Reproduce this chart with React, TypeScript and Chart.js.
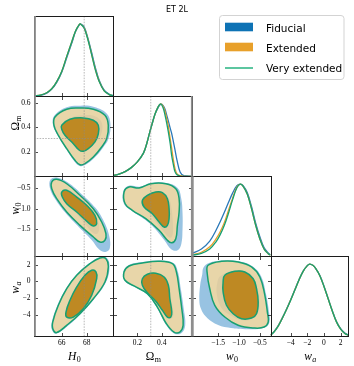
import { useEffect, useRef } from 'react';
import { Chart, registerables } from 'chart.js';

Chart.register(...registerables);

const W = 354;
const H = 366;

// ---------- text ----------
const TITLE = 'ET 2L';
const SERIES = ['Fiducial', 'Extended', 'Very extended'];

// ---------- layout (panel edges, px) ----------
const COL_EDGES = [34, 113.3, 191.8, 270.5, 348.3];
const ROW_EDGES = [16, 96, 176.3, 256.2, 336.3];

// ---------- colours ----------
const FID_LINE = '#2a78b8';
const EXT_LINE = '#e69f2b';
const VEXT_LINE = '#17a072';
const FID_OUT = 'rgb(152,195,226)';
const FID_IN = 'rgb(70,135,192)';
const EXT_OUT = 'rgba(246,216,160,0.86)';
const EXT_IN = 'rgb(190,137,35)';
const LEG_FID = '#0e73b5';
const LEG_EXT = '#e8a02a';
const LEG_VEXT = '#5cc6a0';
const REF_COLOR = 'rgba(140,140,140,0.75)';

// ---------- axis ranges / ticks / reference values ----------
const H0_RANGE = [63.78, 70.13];
const OM_XRANGE = [0.003, 0.646];
const OM_YRANGE = [0.0016, 0.657];
const W0_XRANGE = [-2.13, -0.245];
const W0_YRANGE = [-2.142, -0.221];
const WA_XRANGE = [-6.42, 2.92];
const WA_YRANGE = [-6.6, 3.01];
const PDF_RANGE = [0, 1.11];

const H0_TICKS = [66, 68];
const H0_LABELS = ['66', '68'];
const OM_XTICKS = [0.2, 0.4];
const OM_XLABELS = ['0.2', '0.4'];
const OM_YTICKS = [0.2, 0.4, 0.6];
const OM_YLABELS = ['0.2', '0.4', '0.6'];
const W0_TICKS = [-1.5, -1.0, -0.5];
const W0_LABELS = ['\u22121.5', '\u22121.0', '\u22120.5'];
const WA_TICKS = [-4, -2, 0, 2];
const WA_LABELS = ['\u22124', '\u22122', '0', '2'];

const H0_REF = 67.8;
const OM_REF = 0.31;

// ---------- 1D marginals ----------
const H0_GRID = [63.8, 64.3, 64.8, 65.2, 65.6, 66.0, 66.4, 66.8, 67.1, 67.4, 67.5, 67.8, 68.1, 68.4, 68.7, 69.0, 69.4, 69.8, 70.1];
const H0_FID = [0.0, 0.01, 0.04, 0.095, 0.19, 0.33, 0.53, 0.73, 0.89, 0.985, 1.0, 0.955, 0.8, 0.6, 0.39, 0.22, 0.08, 0.025, 0.008];
const H0_EXT = [0.0, 0.012, 0.045, 0.1, 0.2, 0.34, 0.55, 0.75, 0.9, 0.99, 1.0, 0.945, 0.785, 0.575, 0.365, 0.205, 0.072, 0.02, 0.005];
const H0_VEXT = [0.0, 0.012, 0.045, 0.1, 0.2, 0.34, 0.55, 0.75, 0.9, 0.99, 1.0, 0.94, 0.78, 0.57, 0.36, 0.2, 0.07, 0.02, 0.005];

const OM_GRID = [0.0, 0.05, 0.1, 0.15, 0.2, 0.25, 0.28, 0.3, 0.32, 0.345, 0.37, 0.39, 0.41, 0.426, 0.44, 0.453, 0.47, 0.48, 0.495, 0.508, 0.525, 0.55, 0.58, 0.646];
const OM_FID = [0.01, 0.03, 0.065, 0.12, 0.2, 0.32, 0.47, 0.6, 0.72, 0.86, 0.95, 0.995, 0.98, 0.93, 0.85, 0.77, 0.66, 0.6, 0.48, 0.37, 0.22, 0.06, 0.01, 0.0];
const OM_EXT = [0.01, 0.03, 0.065, 0.12, 0.2, 0.32, 0.47, 0.6, 0.72, 0.86, 0.96, 1.0, 0.97, 0.9, 0.8, 0.7, 0.51, 0.4, 0.23, 0.11, 0.035, 0.008, 0.0, 0.0];
const OM_VEXT = [0.01, 0.03, 0.065, 0.12, 0.2, 0.32, 0.47, 0.6, 0.72, 0.86, 0.96, 1.0, 0.95, 0.85, 0.74, 0.62, 0.44, 0.3, 0.16, 0.065, 0.02, 0.003, 0.0, 0.0];

const W0_GRID = [-2.13, -1.9, -1.7, -1.55, -1.45, -1.35, -1.25, -1.15, -1.05, -0.97, -0.9, -0.8, -0.7, -0.6, -0.5, -0.4, -0.3, -0.245];
const W0_FID = [0.035, 0.1, 0.21, 0.36, 0.48, 0.61, 0.75, 0.88, 0.98, 1.0, 0.98, 0.88, 0.69, 0.46, 0.27, 0.12, 0.045, 0.02];
const W0_EXT = [0.018, 0.055, 0.13, 0.24, 0.34, 0.47, 0.64, 0.81, 0.96, 1.0, 0.97, 0.86, 0.66, 0.43, 0.24, 0.1, 0.035, 0.015];
const W0_VEXT = [0.012, 0.04, 0.1, 0.2, 0.3, 0.43, 0.6, 0.79, 0.95, 1.0, 0.97, 0.86, 0.66, 0.43, 0.24, 0.1, 0.035, 0.015];

const WA_GRID = [-6.42, -6.0, -5.5, -5.0, -4.5, -4.0, -3.5, -3.0, -2.5, -2.0, -1.7, -1.3, -1.0, -0.5, 0.0, 0.5, 1.0, 1.5, 2.0, 2.5, 2.92];
const WA_FID = [0.02, 0.065, 0.145, 0.255, 0.375, 0.505, 0.645, 0.785, 0.905, 0.98, 1.0, 0.98, 0.94, 0.845, 0.695, 0.525, 0.355, 0.205, 0.105, 0.045, 0.018];
const WA_EXT = [0.016, 0.062, 0.142, 0.252, 0.372, 0.502, 0.642, 0.78, 0.9, 0.98, 1.0, 0.98, 0.94, 0.84, 0.69, 0.52, 0.35, 0.2, 0.1, 0.04, 0.015];
const WA_VEXT = [0.015, 0.06, 0.14, 0.25, 0.37, 0.5, 0.64, 0.78, 0.9, 0.98, 1.0, 0.98, 0.94, 0.84, 0.69, 0.52, 0.35, 0.2, 0.1, 0.04, 0.015];

// ---------- 2D contours (68% = *1, 95% = *2) ----------
const FID_H0_OM_2 = [[65.4, 0.495], [66.4, 0.565], [67.5, 0.578], [68.6, 0.568], [69.6, 0.515], [69.9, 0.43], [69.75, 0.31], [69.3, 0.235], [68.6, 0.15], [67.9, 0.095], [67.45, 0.086], [67.0, 0.125], [66.35, 0.225], [65.65, 0.34], [65.3, 0.42]];
const FID_H0_OM_1 = [[66.0, 0.425], [66.7, 0.48], [67.8, 0.5], [68.7, 0.49], [69.2, 0.44], [69.2, 0.36], [68.8, 0.285], [68.2, 0.225], [67.75, 0.2], [67.4, 0.21], [66.9, 0.265], [66.25, 0.335], [65.95, 0.385]];
const EXT_H0_OM_2 = [[65.46, 0.486], [66.4, 0.549], [67.46, 0.559], [68.53, 0.549], [69.46, 0.5], [69.73, 0.418], [69.6, 0.309], [69.2, 0.241], [68.53, 0.159], [67.86, 0.105], [67.46, 0.096], [67.06, 0.132], [66.4, 0.227], [65.73, 0.336], [65.38, 0.418]];
const EXT_H0_OM_1 = [[66.0, 0.418], [66.66, 0.467], [67.73, 0.478], [68.53, 0.459], [68.93, 0.418], [68.93, 0.349], [68.66, 0.282], [68.13, 0.227], [67.73, 0.206], [67.41, 0.214], [66.93, 0.268], [66.26, 0.336], [66.0, 0.385]];

const FID_H0_W0_2 = [[65.1, -0.3], [65.6, -0.25], [66.5, -0.37], [67.6, -0.65], [68.7, -0.98], [69.4, -1.32], [69.8, -1.65], [69.85, -1.95], [69.5, -2.04], [69.0, -1.98], [68.4, -1.75], [67.4, -1.45], [66.3, -1.1], [65.5, -0.78], [65.05, -0.5]];
const FID_H0_W0_1 = [[66.0, -0.58], [66.45, -0.53], [67.3, -0.7], [68.1, -0.92], [68.8, -1.2], [69.0, -1.45], [68.85, -1.6], [68.5, -1.58], [67.9, -1.38], [67.1, -1.1], [66.35, -0.88], [65.95, -0.7]];
const EXT_H0_W0_2 = [[65.2, -0.358], [65.6, -0.293], [66.4, -0.4], [67.46, -0.678], [68.53, -1.0], [69.2, -1.32], [69.54, -1.6], [69.46, -1.76], [69.06, -1.8], [68.53, -1.68], [67.46, -1.4], [66.4, -1.08], [65.6, -0.76], [65.2, -0.52]];
const EXT_H0_W0_1 = [[66.0, -0.6], [66.4, -0.558], [67.2, -0.72], [68.0, -0.918], [68.66, -1.16], [68.8, -1.36], [68.53, -1.416], [68.0, -1.3], [67.2, -1.08], [66.4, -0.88], [66.05, -0.72]];

const FID_H0_WA_2 = [[65.55, -6.3], [66.45, -5.4], [67.5, -3.95], [68.6, -2.12], [69.55, -0.08], [69.83, 1.75], [69.62, 2.8], [69.08, 2.92], [68.22, 2.2], [67.15, 0.76], [66.33, -0.9], [65.65, -2.9], [65.2, -4.95], [65.22, -5.85]];
const FID_H0_WA_1 = [[66.37, -4.38], [66.95, -4.38], [67.78, -3.32], [68.46, -1.68], [68.86, 0.33], [68.8, 1.18], [68.4, 1.4], [67.83, 0.77], [67.16, -0.68], [66.6, -2.3], [66.3, -3.72]];
const EXT_H0_WA_2 = [[65.6, -6.15], [66.4, -5.28], [67.46, -3.89], [68.53, -2.09], [69.46, -0.08], [69.73, 1.72], [69.54, 2.71], [69.06, 2.8], [68.26, 2.11], [67.2, 0.72], [66.4, -0.89], [65.73, -2.88], [65.28, -4.89], [65.3, -5.75]];
const EXT_H0_WA_1 = [[66.4, -4.29], [66.93, -4.29], [67.73, -3.29], [68.4, -1.68], [68.8, 0.31], [68.74, 1.12], [68.4, 1.32], [67.86, 0.72], [67.2, -0.68], [66.66, -2.28], [66.34, -3.69]];

const FID_OM_W0_2 = [[0.085, -0.58], [0.13, -0.45], [0.22, -0.47], [0.31, -0.38], [0.44, -0.38], [0.53, -0.5], [0.56, -0.76], [0.57, -1.1], [0.57, -1.5], [0.56, -1.85], [0.53, -2.0], [0.48, -1.98], [0.42, -1.75], [0.3, -1.35], [0.16, -1.06], [0.09, -0.88]];
const FID_OM_W0_1 = [[0.24, -0.79], [0.28, -0.66], [0.35, -0.58], [0.41, -0.6], [0.46, -0.76], [0.48, -1.0], [0.49, -1.3], [0.49, -1.6], [0.47, -1.7], [0.43, -1.6], [0.37, -1.38], [0.31, -1.15], [0.255, -0.96]];
const EXT_OM_W0_2 = [[0.091, -0.6], [0.132, -0.478], [0.214, -0.503], [0.31, -0.4], [0.433, -0.4], [0.515, -0.52], [0.542, -0.76], [0.542, -1.08], [0.528, -1.4], [0.515, -1.72], [0.482, -1.82], [0.446, -1.76], [0.378, -1.52], [0.269, -1.24], [0.159, -1.04], [0.1, -0.88]];
const EXT_OM_W0_1 = [[0.241, -0.8], [0.282, -0.678], [0.351, -0.6], [0.405, -0.615], [0.446, -0.76], [0.46, -1.0], [0.46, -1.24], [0.446, -1.4], [0.419, -1.44], [0.378, -1.32], [0.323, -1.12], [0.255, -0.96]];

const FID_OM_WA_2 = [[0.085, 1.15], [0.128, 1.92], [0.24, 2.3], [0.38, 2.5], [0.495, 2.2], [0.532, 1.15], [0.556, -0.9], [0.58, -3.3], [0.592, -5.3], [0.56, -6.22], [0.5, -6.25], [0.432, -5.15], [0.358, -3.12], [0.278, -1.55], [0.17, -0.63], [0.093, 0.1]];
const FID_OM_WA_1 = [[0.238, 0.33], [0.282, 0.9], [0.352, 1.02], [0.425, 0.55], [0.462, -0.48], [0.476, -2.1], [0.494, -3.72], [0.486, -4.4], [0.45, -4.42], [0.403, -3.55], [0.348, -2.45], [0.28, -1.4], [0.237, -0.48]];
const EXT_OM_WA_2 = [[0.091, 1.12], [0.132, 1.84], [0.241, 2.2], [0.378, 2.4], [0.487, 2.11], [0.52, 1.12], [0.542, -0.89], [0.564, -3.29], [0.575, -5.28], [0.548, -6.09], [0.5, -6.09], [0.438, -5.09], [0.364, -3.09], [0.282, -1.49], [0.173, -0.56], [0.099, 0.12]];
const EXT_OM_WA_1 = [[0.241, 0.31], [0.282, 0.84], [0.351, 0.96], [0.419, 0.52], [0.454, -0.48], [0.466, -2.09], [0.482, -3.69], [0.474, -4.29], [0.446, -4.29], [0.405, -3.48], [0.351, -2.4], [0.282, -1.37], [0.241, -0.48]];

const FID_W0_WA_2 = [[-1.85, 1.65], [-1.72, 2.2], [-1.4, 2.5], [-1.0, 2.4], [-0.68, 1.8], [-0.47, 0.6], [-0.35, -1.6], [-0.28, -3.7], [-0.27, -4.9], [-0.38, -5.55], [-0.78, -5.75], [-1.26, -5.55], [-1.58, -5.05], [-1.8, -4.2], [-1.91, -3.3], [-1.95, -2.3], [-1.93, -0.48], [-1.88, 0.8]];
const FID_W0_WA_1 = [[-1.45, 0.6], [-1.15, 1.25], [-0.85, 1.2], [-0.64, 0.35], [-0.55, -0.9], [-0.51, -2.5], [-0.55, -3.9], [-0.7, -4.55], [-0.95, -4.65], [-1.2, -4.1], [-1.42, -3.2], [-1.53, -1.6], [-1.52, -0.2]];
const EXT_W0_WA_2 = [[-1.74, 1.92], [-1.42, 2.4], [-1.02, 2.32], [-0.7, 1.72], [-0.5, 0.52], [-0.38, -1.68], [-0.32, -3.69], [-0.3, -4.89], [-0.4, -5.49], [-0.62, -5.61], [-1.02, -5.28], [-1.34, -4.29], [-1.58, -2.88], [-1.7, -0.89], [-1.76, 0.91]];
const EXT_W0_WA_1 = [[-1.34, 0.72], [-1.1, 1.2], [-0.86, 1.12], [-0.66, 0.31], [-0.58, -0.89], [-0.54, -2.48], [-0.58, -3.89], [-0.7, -4.41], [-0.94, -4.49], [-1.14, -3.89], [-1.3, -2.88], [-1.38, -1.28], [-1.38, -0.08]];

// ---------- parameter table (built from the arrays above) ----------
const PARAMS: any[] = [
  { sym: 'H', symItalic: true, sub: '0', subItalic: false, xr: H0_RANGE, yr: null, xticks: H0_TICKS, xlabels: H0_LABELS, yticks: H0_TICKS, ylabels: H0_LABELS, ref: H0_REF, grid: H0_GRID, fid: H0_FID, ext: H0_EXT, vext: H0_VEXT, labelY: 0 },
  { sym: '\u03A9', symItalic: false, sub: 'm', subItalic: false, xr: OM_XRANGE, yr: OM_YRANGE, xticks: OM_XTICKS, xlabels: OM_XLABELS, yticks: OM_YTICKS, ylabels: OM_YLABELS, ref: OM_REF, grid: OM_GRID, fid: OM_FID, ext: OM_EXT, vext: OM_VEXT, labelY: 123 },
  { sym: 'w', symItalic: true, sub: '0', subItalic: false, xr: W0_XRANGE, yr: W0_YRANGE, xticks: W0_TICKS, xlabels: W0_LABELS, yticks: W0_TICKS, ylabels: W0_LABELS, ref: null, grid: W0_GRID, fid: W0_FID, ext: W0_EXT, vext: W0_VEXT, labelY: 208.5 },
  { sym: 'w', symItalic: true, sub: 'a', subItalic: true, xr: WA_XRANGE, yr: WA_YRANGE, xticks: WA_TICKS, xlabels: WA_LABELS, yticks: WA_TICKS, ylabels: WA_LABELS, ref: null, grid: WA_GRID, fid: WA_FID, ext: WA_EXT, vext: WA_VEXT, labelY: 287.5 },
];

const CONTOURS: Record<string, any> = {
  '01': { fid2: FID_H0_OM_2, fid1: FID_H0_OM_1, ext2: EXT_H0_OM_2, ext1: EXT_H0_OM_1 },
  '02': { fid2: FID_H0_W0_2, fid1: FID_H0_W0_1, ext2: EXT_H0_W0_2, ext1: EXT_H0_W0_1 },
  '03': { fid2: FID_H0_WA_2, fid1: FID_H0_WA_1, ext2: EXT_H0_WA_2, ext1: EXT_H0_WA_1 },
  '12': { fid2: FID_OM_W0_2, fid1: FID_OM_W0_1, ext2: EXT_OM_W0_2, ext1: EXT_OM_W0_1 },
  '13': { fid2: FID_OM_WA_2, fid1: FID_OM_WA_1, ext2: EXT_OM_WA_2, ext1: EXT_OM_WA_1 },
  '23': { fid2: FID_W0_WA_2, fid1: FID_W0_WA_1, ext2: EXT_W0_WA_2, ext1: EXT_W0_WA_1 },
};

const PANELS: { r: number; c: number }[] = [];
for (let r = 0; r < 4; r++) for (let c = 0; c <= r; c++) PANELS.push({ r, c });

const TRANSPARENT = 'rgba(0,0,0,0)';

function curveDs(grid: number[], vals: number[], color: string) {
  return {
    data: grid.map((x, i) => ({ x, y: vals[i] })),
    showLine: true, tension: 0.35, pointRadius: 0, borderWidth: 1.3,
    borderColor: color, backgroundColor: TRANSPARENT, fill: false, clip: 0,
  };
}

function contourDs(pts: number[][], fillColor: string | null, lineColor: string | null) {
  const n = pts.length;
  const seq = [pts[n - 1], ...pts, pts[0], pts[1]];
  const hide = (ctx: any) => (ctx.p0DataIndex === 0 || ctx.p0DataIndex >= n + 1 ? TRANSPARENT : undefined);
  return {
    data: seq.map(([x, y]) => ({ x, y })),
    showLine: true, tension: 0.4, pointRadius: 0,
    borderWidth: lineColor ? 1.5 : 0,
    borderColor: lineColor || TRANSPARENT,
    backgroundColor: fillColor || TRANSPARENT,
    fill: fillColor ? 'shape' : false,
    clip: 0,
    segment: { borderColor: hide, backgroundColor: hide },
  };
}

function refDs(a: { x: number; y: number }, b: { x: number; y: number }) {
  return {
    data: [a, b], showLine: true, tension: 0, pointRadius: 0, borderWidth: 0.8,
    borderColor: REF_COLOR, borderDash: [1.6, 1.2], backgroundColor: TRANSPARENT, fill: false, clip: 0,
  };
}

const TICK_FONT = '7.5px "Liberation Serif"';

function drawMath(ctx: CanvasRenderingContext2D, P: any, x: number, base: number, rotated: boolean) {
  ctx.save();
  ctx.translate(x, base);
  if (rotated) ctx.rotate(-Math.PI / 2);
  const mf = (P.symItalic ? 'italic ' : '') + '11.5px "Liberation Serif"';
  const sf = (P.subItalic ? 'italic ' : '') + '8px "Liberation Serif"';
  ctx.font = mf;
  const w1 = ctx.measureText(P.sym).width;
  ctx.font = sf;
  const w2 = ctx.measureText(P.sub).width;
  const x0 = -(w1 + w2 + 0.4) / 2;
  ctx.textAlign = 'left';
  ctx.textBaseline = 'alphabetic';
  ctx.fillStyle = '#000';
  ctx.font = mf;
  ctx.fillText(P.sym, x0, 0);
  ctx.font = sf;
  ctx.fillText(P.sub, x0 + w1 + 0.4, 2.6);
  ctx.restore();
}

function makeDeco(p: { r: number; c: number }) {
  const X = PARAMS[p.c];
  const is1D = p.c === p.r;
  const Y = is1D ? null : PARAMS[p.r];
  return {
    id: 'deco',
    afterDatasetsDraw(chart: any) {
      const ctx: CanvasRenderingContext2D = chart.ctx;
      const a = chart.chartArea;
      const xs = chart.scales.x;
      const ys = chart.scales.y;
      const L = Math.round(a.left) + 0.5;
      const R = Math.round(a.right) + 0.5;
      const T = Math.round(a.top) + 0.5;
      const B = Math.round(a.bottom) + 0.5;
      ctx.save();
      // inward ticks
      ctx.strokeStyle = '#222';
      ctx.lineWidth = 0.8;
      ctx.beginPath();
      X.xticks.forEach((v: number) => {
        const px = Math.round(xs.getPixelForValue(v)) + 0.5;
        ctx.moveTo(px, B); ctx.lineTo(px, B - 3.5);
        if (!is1D) { ctx.moveTo(px, T); ctx.lineTo(px, T + 3.5); }
      });
      if (Y) {
        Y.yticks.forEach((v: number) => {
          const py = Math.round(ys.getPixelForValue(v)) + 0.5;
          ctx.moveTo(L, py); ctx.lineTo(L + 3.5, py);
          ctx.moveTo(R, py); ctx.lineTo(R - 3.5, py);
        });
      }
      ctx.stroke();
      // frame
      ctx.strokeStyle = '#1c1c1c';
      ctx.lineWidth = 1;
      ctx.strokeRect(L, T, R - L, B - T);
      ctx.strokeStyle = '#8e8e8e';
      ctx.lineWidth = 1.8;
      ctx.beginPath();
      if (p.c === 0 || p.c === 2) { ctx.moveTo(a.left + 1, a.top); ctx.lineTo(a.left + 1, a.bottom); }
      if (p.c === 1) { ctx.moveTo(a.right, a.top); ctx.lineTo(a.right, a.bottom); }
      ctx.stroke();
      // tick labels
      ctx.fillStyle = '#000';
      ctx.font = TICK_FONT;
      if (p.r === 3) {
        ctx.textAlign = 'center';
        ctx.textBaseline = 'middle';
        X.xticks.forEach((v: number, i: number) => ctx.fillText(X.xlabels[i], xs.getPixelForValue(v), a.bottom + 6.8));
      }
      if (p.c === 0 && Y) {
        ctx.textAlign = 'right';
        ctx.textBaseline = 'middle';
        Y.yticks.forEach((v: number, i: number) => ctx.fillText(Y.ylabels[i], a.left - 3.5, ys.getPixelForValue(v)));
      }
      // axis titles
      if (p.r === 3) drawMath(ctx, X, (a.left + a.right) / 2 + 0.8, 359.5, false);
      if (p.c === 0 && Y) drawMath(ctx, Y, 18.5, Y.labelY, true);
      ctx.restore();
    },
  };
}

const figurePlugin = {
  id: 'figure',
  afterDraw(chart: any) {
    const ctx: CanvasRenderingContext2D = chart.ctx;
    ctx.save();
    ctx.fillStyle = '#000';
    ctx.font = '8px "DejaVu Sans"';
    ctx.textAlign = 'center';
    ctx.textBaseline = 'alphabetic';
    ctx.fillText(TITLE, 177, 11.5);
    // legend frame
    ctx.beginPath();
    if ((ctx as any).roundRect) (ctx as any).roundRect(219.5, 15.5, 124.5, 64, 3);
    else ctx.rect(219.5, 15.5, 124.5, 64);
    ctx.fillStyle = 'rgba(255,255,255,0.9)';
    ctx.fill();
    ctx.strokeStyle = '#d3d3d3';
    ctx.lineWidth = 1;
    ctx.stroke();
    const rows = [27, 47, 67];
    ctx.fillStyle = LEG_FID;
    ctx.fillRect(225, rows[0] - 4.3, 28, 8.6);
    ctx.fillStyle = LEG_EXT;
    ctx.fillRect(225, rows[1] - 4.3, 28, 8.6);
    ctx.strokeStyle = LEG_VEXT;
    ctx.lineWidth = 2;
    ctx.beginPath();
    ctx.moveTo(225, rows[2] + 1);
    ctx.lineTo(253, rows[2] + 1);
    ctx.stroke();
    ctx.fillStyle = '#000';
    ctx.font = '10.5px "DejaVu Sans"';
    ctx.textAlign = 'left';
    SERIES.forEach((s, i) => ctx.fillText(s, 266, rows[i] + 5.3));
    ctx.restore();
  },
};

function buildConfig(p: { r: number; c: number }, withFigure: boolean): any {
  const X = PARAMS[p.c];
  const is1D = p.c === p.r;
  const Y = is1D ? null : PARAMS[p.r];
  const xr = X.xr;
  const yr = is1D ? PDF_RANGE : Y.yr;
  const ds: any[] = [];
  if (is1D) {
    ds.push(curveDs(X.grid, X.fid, FID_LINE));
    ds.push(curveDs(X.grid, X.ext, EXT_LINE));
    ds.push(curveDs(X.grid, X.vext, VEXT_LINE));
  } else {
    const k = CONTOURS[`${p.c}${p.r}`];
    ds.push(contourDs(k.fid2, FID_OUT, null));
    ds.push(contourDs(k.fid1, FID_IN, null));
    ds.push(contourDs(k.ext2, EXT_OUT, null));
    ds.push(contourDs(k.ext1, EXT_IN, null));
    ds.push(contourDs(k.ext2, null, VEXT_LINE));
    ds.push(contourDs(k.ext1, null, VEXT_LINE));
  }
  if (X.ref != null) ds.push(refDs({ x: X.ref, y: yr[0] }, { x: X.ref, y: yr[1] }));
  if (Y && Y.ref != null) ds.push(refDs({ x: xr[0], y: Y.ref }, { x: xr[1], y: Y.ref }));
  ds.forEach((d, i) => { d.order = ds.length - i; });
  return {
    type: 'scatter',
    data: { datasets: ds },
    options: {
      responsive: false,
      maintainAspectRatio: false,
      animation: false,
      devicePixelRatio: 1,
      events: [],
      layout: {
        padding: {
          left: COL_EDGES[p.c],
          right: W - COL_EDGES[p.c + 1],
          top: ROW_EDGES[p.r],
          bottom: H - ROW_EDGES[p.r + 1],
        },
      },
      scales: {
        x: { type: 'linear', min: xr[0], max: xr[1], display: false },
        y: { type: 'linear', min: yr[0], max: yr[1], display: false },
      },
      plugins: {
        legend: { display: false },
        tooltip: { enabled: false },
        title: { display: false },
      },
    },
    plugins: withFigure ? [makeDeco(p), figurePlugin] : [makeDeco(p)],
  };
}

export default function App() {
  const refs = useRef<(HTMLCanvasElement | null)[]>([]);
  useEffect(() => {
    const charts: Chart[] = [];
    PANELS.forEach((p, i) => {
      const cv = refs.current[i];
      if (cv) charts.push(new Chart(cv, buildConfig(p, i === 0)));
    });
    return () => charts.forEach((c) => c.destroy());
  }, []);
  return (
    <div style={{ position: 'absolute', left: 0, top: 0, width: W, height: H, background: '#fff' }}>
      {PANELS.map((p, i) => (
        <canvas
          key={i}
          ref={(el) => { refs.current[i] = el; }}
          width={W}
          height={H}
          style={{ position: 'absolute', left: 0, top: 0, width: W, height: H }}
        />
      ))}
    </div>
  );
}
